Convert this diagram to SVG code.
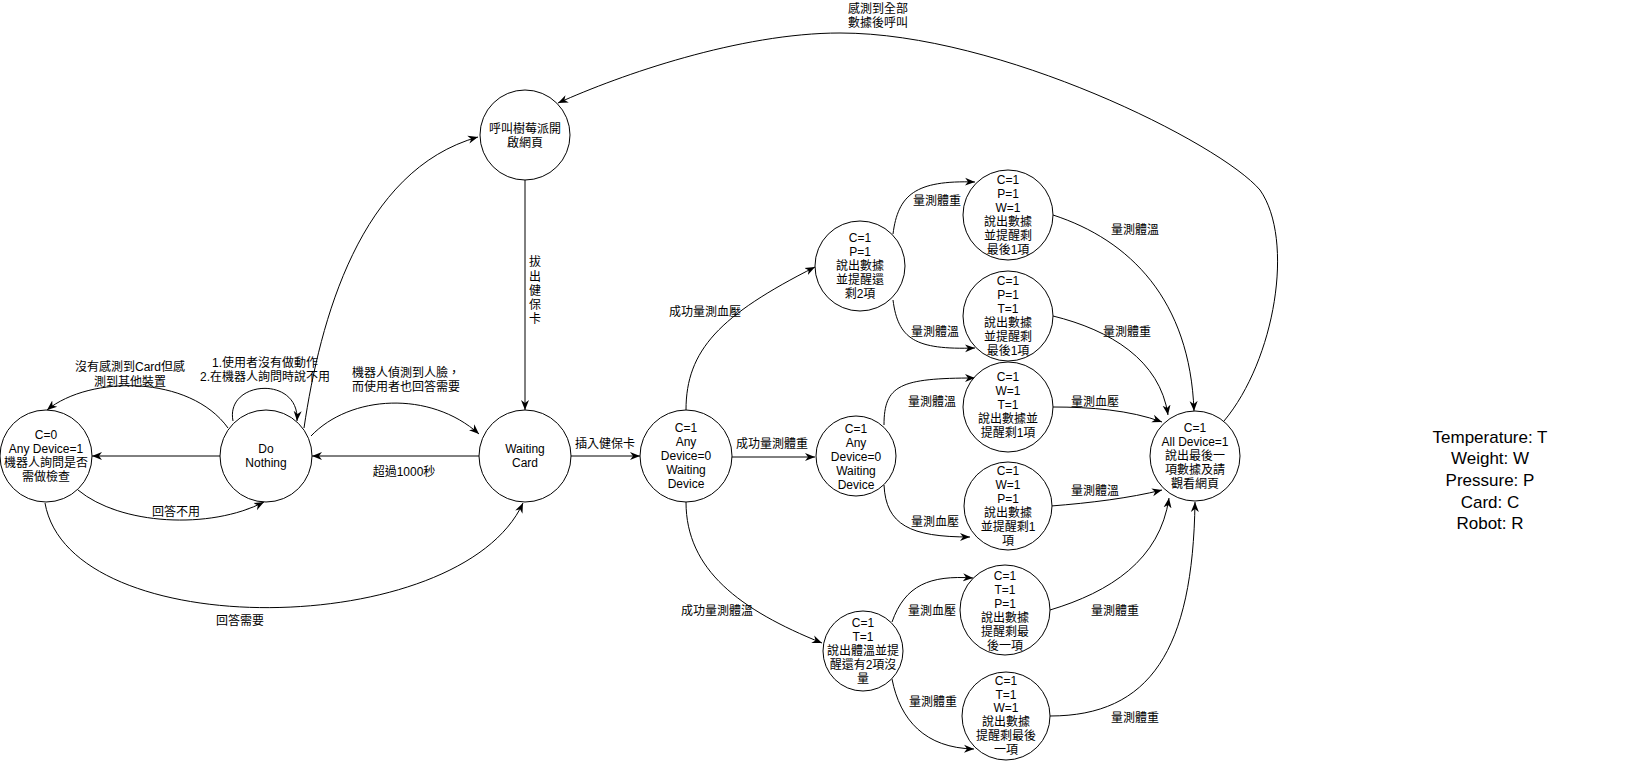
<svg xmlns="http://www.w3.org/2000/svg" width="1651" height="761" viewBox="0 0 1651 761">
<style>
.n{fill:#fff;stroke:#000;stroke-width:1}
.e{fill:none;stroke:#000;stroke-width:1;marker-end:url(#arr)}
text{font-family:"Liberation Sans","Noto Sans CJK TC",sans-serif;font-size:12px;fill:#000;text-anchor:middle}
.lg{font-size:17px}
</style>
<defs>
<marker id="arr" viewBox="0 0 10 10" refX="10" refY="5" markerWidth="10" markerHeight="10" markerUnits="userSpaceOnUse" orient="auto">
<path d="M0,1 L10,5 L0,9 L3,5 z" fill="#000"/>
</marker>
</defs>
<rect width="1651" height="761" fill="#fff"/>

<g id="connectors">
<path class="e" d="M220 456 L92 456"/>
<path class="e" d="M228 428 C190 375 90 375 47 410"/>
<path class="e" d="M233 421 C225 380 300 375 297 421"/>
<path class="e" d="M304 428 C320 320 360 170 478 137"/>
<path class="e" d="M311 436 C350 395 430 390 479 434"/>
<path class="e" d="M479 456 L312 456"/>
<path class="e" d="M78 490 C120 525 210 530 264 502"/>
<path class="e" d="M45 503 C70 645 460 640 523 503"/>
<path class="e" d="M525 180 L525 410"/>
<path class="e" d="M571 456 L640 456"/>
<path class="e" d="M686 410 C686 350 720 315 815 267"/>
<path class="e" d="M708 457 L815 457"/>
<path class="e" d="M686 502 C686 570 740 610 822 643"/>
<path class="e" d="M893 234 C898 195 915 180 975 182"/>
<path class="e" d="M893 300 C898 339 915 350 975 348"/>
<path class="e" d="M884 425 C884 385 900 378 975 378"/>
<path class="e" d="M884 485 C886 525 910 537 970 537"/>
<path class="e" d="M892 622 C905 585 930 575 973 578"/>
<path class="e" d="M892 679 C900 720 925 748 974 749"/>
<path class="e" d="M1053 215 C1130 240 1190 300 1194 411"/>
<path class="e" d="M1053 316 C1110 330 1160 360 1168 415"/>
<path class="e" d="M1053 407 C1090 407 1130 410 1162 422"/>
<path class="e" d="M1051 506 C1090 503 1130 498 1162 490"/>
<path class="e" d="M1050 610 C1110 592 1160 560 1169 498"/>
<path class="e" d="M1050 716 C1150 716 1193 650 1195 502"/>
<path class="e" d="M1224 421 C1275 360 1295 240 1260 190 C1220 143 1000 33 840 33 C740 33 620 75 558 103"/>

<text x="130" y="371">沒有感測到Card但感</text>
<text x="130" y="386">測到其他裝置</text>
<text x="265" y="367">1.使用者沒有做動作</text>
<text x="265" y="381">2.在機器人詢問時說不用</text>
<text x="406" y="377">機器人偵測到人臉，</text>
<text x="406" y="391">而使用者也回答需要</text>
<text x="404" y="476">超過1000秒</text>
<text x="176" y="516">回答不用</text>
<text x="240" y="625">回答需要</text>
<text x="535" y="266">拔</text>
<text x="535" y="281">出</text>
<text x="535" y="295">健</text>
<text x="535" y="309">保</text>
<text x="535" y="323">卡</text>
<text x="605" y="448">插入健保卡</text>
<text x="705" y="316">成功量測血壓</text>
<text x="772" y="448">成功量測體重</text>
<text x="717" y="615">成功量測體溫</text>
<text x="937" y="205">量測體重</text>
<text x="935" y="336">量測體溫</text>
<text x="1135" y="234">量測體溫</text>
<text x="1127" y="336">量測體重</text>
<text x="932" y="406">量測體溫</text>
<text x="935" y="526">量測血壓</text>
<text x="1095" y="406">量測血壓</text>
<text x="1095" y="495">量測體溫</text>
<text x="932" y="615">量測血壓</text>
<text x="933" y="706">量測體重</text>
<text x="1115" y="615">量測體重</text>
<text x="1135" y="722">量測體重</text>
<text x="878" y="13">感測到全部</text>
<text x="878" y="27">數據後呼叫</text>
</g>

<g id="node-check">
<circle class="n" cx="46" cy="456" r="46"/>
<text x="46" y="439">C=0</text>
<text x="46" y="453">Any Device=1</text>
<text x="46" y="467">機器人詢問是否</text>
<text x="46" y="481">需做檢查</text>
</g>
<g id="node-donothing">
<circle class="n" cx="266" cy="456" r="46"/>
<text x="266" y="453">Do</text>
<text x="266" y="467">Nothing</text>
</g>
<g id="node-web">
<circle class="n" cx="525" cy="135" r="45"/>
<text x="525" y="133">呼叫樹莓派開</text>
<text x="525" y="147">啟網頁</text>
</g>
<g id="node-waitingcard">
<circle class="n" cx="525" cy="456" r="46"/>
<text x="525" y="453">Waiting</text>
<text x="525" y="467">Card</text>
</g>
<g id="node-waitingdevice">
<circle class="n" cx="686" cy="456" r="46"/>
<text x="686" y="432">C=1</text>
<text x="686" y="446">Any</text>
<text x="686" y="460">Device=0</text>
<text x="686" y="474">Waiting</text>
<text x="686" y="488">Device</text>
</g>
<g id="node-p">
<circle class="n" cx="860" cy="266" r="45"/>
<text x="860" y="242">C=1</text>
<text x="860" y="256">P=1</text>
<text x="860" y="270">說出數據</text>
<text x="860" y="284">並提醒還</text>
<text x="860" y="298">剩2項</text>
</g>
<g id="node-pw">
<circle class="n" cx="1008" cy="215" r="45"/>
<text x="1008" y="184">C=1</text>
<text x="1008" y="198">P=1</text>
<text x="1008" y="212">W=1</text>
<text x="1008" y="226">說出數據</text>
<text x="1008" y="240">並提醒剩</text>
<text x="1008" y="254">最後1項</text>
</g>
<g id="node-pt">
<circle class="n" cx="1008" cy="316" r="45"/>
<text x="1008" y="285">C=1</text>
<text x="1008" y="299">P=1</text>
<text x="1008" y="313">T=1</text>
<text x="1008" y="327">說出數據</text>
<text x="1008" y="341">並提醒剩</text>
<text x="1008" y="355">最後1項</text>
</g>
<g id="node-w">
<circle class="n" cx="856" cy="456" r="40"/>
<text x="856" y="433">C=1</text>
<text x="856" y="447">Any</text>
<text x="856" y="461">Device=0</text>
<text x="856" y="475">Waiting</text>
<text x="856" y="489">Device</text>
</g>
<g id="node-wt">
<circle class="n" cx="1008" cy="407" r="45"/>
<text x="1008" y="381">C=1</text>
<text x="1008" y="395">W=1</text>
<text x="1008" y="409">T=1</text>
<text x="1008" y="423">說出數據並</text>
<text x="1008" y="437">提醒剩1項</text>
</g>
<g id="node-wp">
<circle class="n" cx="1008" cy="506" r="44"/>
<text x="1008" y="475">C=1</text>
<text x="1008" y="489">W=1</text>
<text x="1008" y="503">P=1</text>
<text x="1008" y="517">說出數據</text>
<text x="1008" y="531">並提醒剩1</text>
<text x="1008" y="545">項</text>
</g>
<g id="node-t">
<circle class="n" cx="863" cy="651" r="40"/>
<text x="863" y="627">C=1</text>
<text x="863" y="641">T=1</text>
<text x="863" y="655">說出體溫並提</text>
<text x="863" y="669">醒還有2項沒</text>
<text x="863" y="683">量</text>
</g>
<g id="node-tp">
<circle class="n" cx="1005" cy="610" r="45"/>
<text x="1005" y="580">C=1</text>
<text x="1005" y="594">T=1</text>
<text x="1005" y="608">P=1</text>
<text x="1005" y="622">說出數據</text>
<text x="1005" y="636">提醒剩最</text>
<text x="1005" y="650">後一項</text>
</g>
<g id="node-tw">
<circle class="n" cx="1006" cy="716" r="44"/>
<text x="1006" y="685">C=1</text>
<text x="1006" y="699">T=1</text>
<text x="1006" y="712">W=1</text>
<text x="1006" y="726">說出數據</text>
<text x="1006" y="740">提醒剩最後</text>
<text x="1006" y="754">一項</text>
</g>
<g id="node-final">
<circle class="n" cx="1195" cy="456" r="45"/>
<text x="1195" y="432">C=1</text>
<text x="1195" y="446">All Device=1</text>
<text x="1195" y="460">說出最後一</text>
<text x="1195" y="474">項數據及請</text>
<text x="1195" y="488">觀看網頁</text>
</g>
<g id="legend">
<text class="lg" x="1490" y="443">Temperature: T</text>
<text class="lg" x="1490" y="464">Weight: W</text>
<text class="lg" x="1490" y="486">Pressure: P</text>
<text class="lg" x="1490" y="508">Card: C</text>
<text class="lg" x="1490" y="529">Robot: R</text>
</g>
</svg>
